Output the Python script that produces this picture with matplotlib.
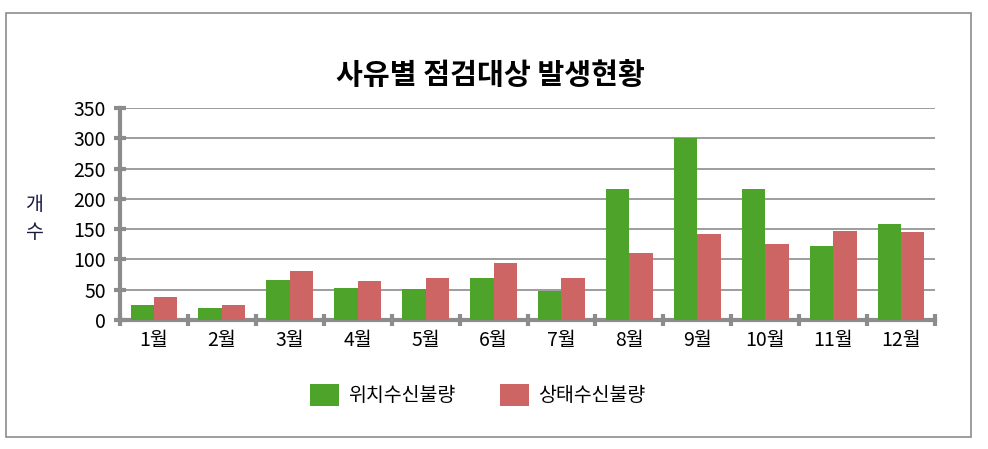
import numpy as np
import matplotlib.pyplot as plt
from matplotlib.patches import Rectangle

plt.rcParams['font.family'] = ['Noto Sans CJK KR', 'DejaVu Sans']

months = ['1월', '2월', '3월', '4월', '5월', '6월', '7월', '8월', '9월', '10월', '11월', '12월']
position_fail = [25, 19, 66, 53, 51, 70, 48, 217, 300, 217, 122, 159]
status_fail = [38, 25, 81, 65, 70, 94, 70, 111, 142, 126, 147, 146]
series_names = ['위치수신불량', '상태수신불량']

green = '#4EA32A'
red = '#CD6565'
gray = '#8C8C8C'

fig = plt.figure(figsize=(9.88, 4.49), dpi=100)
W, H = 988, 449
ax = fig.add_axes([120 / W, 1 - 320 / H, (935 - 120) / W, (320 - 108) / H])

x = np.arange(len(months))
bw = 0.345
ax.bar(x - bw / 2, position_fail, bw, color=green, label=series_names[0], zorder=3)
ax.bar(x + bw / 2, status_fail, bw, color=red, label=series_names[1], zorder=3)

ax.set_xlim(-0.5, len(months) - 0.5)
ax.set_ylim(0, 350)
ax.set_yticks(np.arange(0, 351, 50))
ax.yaxis.grid(True, color=gray, linewidth=1.2, zorder=0)

# category labels between boundary ticks
ax.set_xticks(np.arange(-0.5, len(months)), minor=False)
ax.set_xticklabels([])
ax.set_xticks(x, minor=True)
ax.set_xticklabels(months, minor=True, fontsize=14)
ax.tick_params(axis='x', which='minor', length=0, pad=7)
ax.tick_params(axis='x', which='major', direction='inout', length=8, width=3, color=gray)
ax.tick_params(axis='y', direction='inout', length=8, width=3, color=gray, labelsize=14, pad=6)

for s in ['top', 'right']:
    ax.spines[s].set_visible(False)
for s in ['left', 'bottom']:
    ax.spines[s].set_color(gray)
    ax.spines[s].set_linewidth(3)

fig.text(490 / W, 1 - 75 / H, '사유별 점검대상 발생현황', ha='center', va='center',
         fontsize=21, fontweight='bold')
fig.text(34 / W, 1 - 205 / H, '개', ha='center', va='center', fontsize=14, color='#1a1a40')
fig.text(34 / W, 1 - 232 / H, '수', ha='center', va='center', fontsize=14, color='#1a1a40')

fig.legend(loc='center', bbox_to_anchor=(478 / W, 1 - 395 / H), ncol=2, frameon=False,
           fontsize=14, handlelength=1.45, handleheight=1.4, columnspacing=2.3,
           handletextpad=0.5)

fig.patches.append(Rectangle((6 / W, 1 - 437 / H), (971 - 6) / W, (437 - 13) / H,
                             transform=fig.transFigure, fill=False, edgecolor=gray,
                             linewidth=1.2))

fig.savefig('out.png', dpi=100)
